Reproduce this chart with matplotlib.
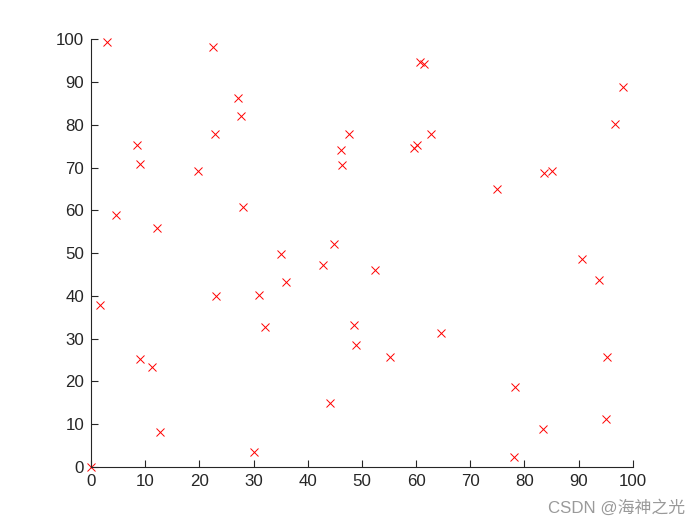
import matplotlib
matplotlib.use("Agg")
import matplotlib.pyplot as plt

x_vals = [2.9, 22.6, 27.2, 27.6, 22.8, 8.4, 9.1, 19.7, 4.7, 28.0, 12.1,
          1.6, 23.0, 9.1, 11.2, 12.8, 30.0, 0.0, 31.1, 32.1,
          35.0, 35.9, 42.9, 44.8, 44.2, 46.1, 46.3, 47.7, 48.5, 49.0,
          52.4, 55.2, 59.6, 60.2, 60.7, 61.4, 62.7, 64.6, 75.0,
          78.0, 78.2, 83.4, 83.6, 85.1, 90.6, 93.8, 95.2, 95.0, 96.7, 98.2]
y_vals = [99.3, 98.2, 86.2, 82.0, 77.8, 75.2, 70.8, 69.3, 58.8, 60.8, 55.8,
          37.8, 40.0, 25.3, 23.3, 8.1, 3.5, 0.0, 40.3, 32.7,
          49.8, 43.2, 47.1, 52.1, 14.9, 74.0, 70.7, 77.8, 33.2, 28.5,
          46.0, 25.6, 74.6, 75.2, 94.7, 94.3, 77.8, 31.4, 65.1,
          2.2, 18.6, 8.9, 68.7, 69.1, 48.6, 43.7, 25.6, 11.1, 80.2, 88.8]

x_ticks = [0, 10, 20, 30, 40, 50, 60, 70, 80, 90, 100]
y_ticks = [0, 10, 20, 30, 40, 50, 60, 70, 80, 90, 100]

plt.rcParams['font.family'] = ['Liberation Sans', 'DejaVu Sans']

fig = plt.figure(figsize=(7, 5.25), dpi=100)
ax = fig.add_axes([0.13, 0.111, 0.774, 0.814])
ax.plot(x_vals, y_vals, linestyle='none', marker='x', color='red',
        markersize=6, markeredgewidth=0.7, clip_on=False)
ax.set_xlim(0, 100)
ax.set_ylim(0, 100)
ax.set_xticks(x_ticks)
ax.set_yticks(y_ticks)
ax.spines['top'].set_visible(False)
ax.spines['right'].set_visible(False)
axcol = '#262626'
for s in ['left', 'bottom']:
    ax.spines[s].set_color(axcol)
    ax.spines[s].set_linewidth(0.8)
ax.tick_params(direction='in', length=5, width=0.8, color=axcol,
               labelcolor=axcol, labelsize=12.2, pad=5)

fig.text(0.979, 0.033, 'CSDN @海神之光', ha='right', va='center',
         fontsize=12.2, color='#9a9a9a',
         family=['Liberation Sans', 'Noto Sans CJK SC', 'DejaVu Sans'])

fig.savefig('out.png', dpi=100)
